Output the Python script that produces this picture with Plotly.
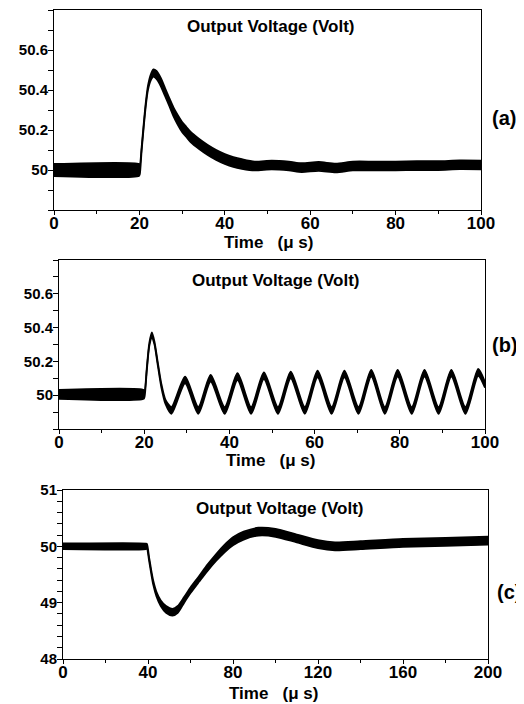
import plotly.graph_objects as go

# ---------------- data ----------------
# Panel (a): time in microseconds, trace centre (V), half thickness of the trace band (V)
t_a = [0, 19.9, 20.1, 20.5, 21, 21.5, 22, 22.6, 23.3, 24, 25, 26, 27, 28, 29, 30, 31, 32,
       34, 36, 38, 40, 42, 44, 47, 51, 55, 58, 62, 66, 70, 75, 80, 85, 90, 95, 100]
v_a = [50.0, 50.0, 50.0, 50.1, 50.22, 50.33, 50.41, 50.46, 50.485, 50.475, 50.44, 50.39,
       50.34, 50.29, 50.25, 50.215, 50.19, 50.165, 50.13, 50.1, 50.075, 50.055, 50.04,
       50.03, 50.02, 50.025, 50.02, 50.012, 50.018, 50.01, 50.02, 50.02, 50.02, 50.022,
       50.022, 50.026, 50.025]
w_a = [0.03, 0.03, 0.02, 0.008, 0.008, 0.008, 0.01, 0.014, 0.018, 0.02, 0.02, 0.02, 0.02,
       0.022, 0.024, 0.025, 0.025, 0.025, 0.025, 0.025, 0.025, 0.025, 0.025, 0.024, 0.022,
       0.022, 0.022, 0.022, 0.022, 0.022, 0.022, 0.022, 0.022, 0.022, 0.022, 0.022, 0.022]

# Panel (b)
t_b = [0, 19.9, 20.1, 20.6, 21.2, 21.8, 22.4, 23.1, 24.0, 25.0, 26.4, 29.6, 32.7, 35.6, 38.9,
       41.9, 45.1, 48.1, 51.4, 54.4, 57.7, 60.7, 64.0, 67.0, 70.3, 73.3, 76.5, 79.5, 82.8,
       85.8, 89.1, 92.1, 95.4, 98.4, 100]
v_b = [50.005, 50.005, 50.005, 50.15, 50.3, 50.355, 50.31, 50.2, 50.06, 49.96, 49.91, 50.09,
       49.91, 50.1, 49.91, 50.11, 49.91, 50.115, 49.91, 50.12, 49.91, 50.125, 49.91,
       50.125, 49.91, 50.13, 49.91, 50.13, 49.91, 50.13, 49.91, 50.13, 49.91, 50.135,
       50.06]
w_b = [0.026, 0.026, 0.012, 0.008, 0.008, 0.016, 0.008, 0.008, 0.01, 0.012, 0.02, 0.02,
       0.02, 0.02, 0.02, 0.02, 0.02, 0.02, 0.02, 0.02, 0.02, 0.02, 0.02, 0.02,
       0.02, 0.02, 0.02, 0.02, 0.02, 0.02, 0.02, 0.02, 0.02, 0.02, 0.016]

# Panel (c)
t_c = [0, 39, 39.5, 40.5, 41.5, 42.5, 44, 46, 48.5, 51.5, 54, 57, 60, 64, 68, 72, 76, 80,
       85, 92, 100, 110, 120, 128, 140, 160, 180, 200]
v_c = [50.0, 50.0, 50.0, 49.78, 49.55, 49.35, 49.15, 48.99, 48.88, 48.83, 48.88, 49.05,
       49.22, 49.42, 49.62, 49.8, 49.96, 50.09, 50.19, 50.26, 50.24, 50.14, 50.04, 50.0,
       50.02, 50.06, 50.08, 50.1]
w_c = [0.05, 0.05, 0.04, 0.03, 0.03, 0.035, 0.04, 0.05, 0.06, 0.06, 0.06, 0.05, 0.05, 0.05,
       0.055, 0.06, 0.065, 0.07, 0.07, 0.07, 0.07, 0.07, 0.07, 0.07, 0.07, 0.07, 0.07, 0.07]

x_ticks_ab = [0, 20, 40, 60, 80, 100]
x_ticks_c = [0, 40, 80, 120, 160, 200]
y_ticks_ab = [50, 50.2, 50.4, 50.6]
y_labels_ab = ["50", "50.2", "50.4", "50.6"]
y_ticks_c = [48, 49, 50, 51]
y_labels_c = ["48", "49", "50", "51"]

title_text = "Output Voltage (Volt)"
xtitle_text = "Time\u00a0\u00a0\u00a0(\u03bc\u00a0s)"
panel_names = ["(a)", "(b)", "(c)"]

# ---------------- layout helpers ----------------
W, H = 524, 704
OFF = 8  # page body margin shifts the figure by this much
def px(x):
    return (x - OFF) / W
def py(y):
    return 1 - (y - OFF) / H

FONT = "Arial, 'Liberation Sans', Helvetica, sans-serif"

panels = [
    dict(t=t_a, v=v_a, w=w_a, xr=[0, 100], yr=[49.8, 50.8], xt=x_ticks_ab, xm=10,
         yt=y_ticks_ab, yl=y_labels_ab, ym=0.1, box=(54, 481, 10, 210),
         title=(270, 27), xtitle=(268, 242), label=(504, 118)),
    dict(t=t_b, v=v_b, w=w_b, xr=[0, 100], yr=[49.8, 50.8], xt=x_ticks_ab, xm=10,
         yt=y_ticks_ab, yl=y_labels_ab, ym=0.1, box=(59, 485, 260, 429),
         title=(275, 281), xtitle=(270, 460), label=(505, 345)),
    dict(t=t_c, v=v_c, w=w_c, xr=[0, 200], yr=[48, 51], xt=x_ticks_c, xm=20,
         yt=y_ticks_c, yl=y_labels_c, ym=0.2, box=(63, 488, 490, 659),
         title=(279, 508), xtitle=(273, 693), label=(509, 592)),
]

fig = go.Figure()
annotations = []
layout = {}
for i, p in enumerate(panels):
    xa = "x" if i == 0 else f"x{i+1}"
    ya = "y" if i == 0 else f"y{i+1}"
    hi = [c + h for c, h in zip(p["v"], p["w"])]
    lo = [c - h for c, h in zip(p["v"], p["w"])]
    line = dict(color="black", width=1.8, shape="spline", smoothing=0.7)
    fig.add_trace(go.Scatter(x=p["t"], y=hi, mode="lines", line=line, xaxis=xa, yaxis=ya,
                             showlegend=False, hoverinfo="skip"))
    fig.add_trace(go.Scatter(x=p["t"], y=lo, mode="lines", line=line, fill="tonexty",
                             fillcolor="black", xaxis=xa, yaxis=ya, showlegend=False,
                             hoverinfo="skip"))
    x0, x1, y0, y1 = p["box"]
    xkey = "xaxis" if i == 0 else f"xaxis{i+1}"
    ykey = "yaxis" if i == 0 else f"yaxis{i+1}"
    layout[xkey] = dict(
        domain=[px(x0), px(x1)], range=p["xr"], anchor=ya, tickvals=p["xt"],
        ticks="outside", ticklen=4, tickwidth=1, tickcolor="black",
        minor=dict(dtick=p["xm"], tick0=0, ticks="outside", ticklen=3, tickcolor="black"),
        showline=True, mirror=True, linecolor="black", linewidth=1,
        showgrid=False, zeroline=False, automargin=False, ticklabelstandoff=-6,
        tickfont=dict(family=FONT, size=17, color="black", weight="bold"),
    )
    layout[ykey] = dict(
        domain=[py(y1), py(y0)], range=p["yr"], anchor=xa, tickvals=p["yt"],
        ticktext=p["yl"], ticks="outside", ticklen=5, tickwidth=1, tickcolor="black",
        minor=dict(dtick=p["ym"], tick0=p["yr"][0], ticks="outside", ticklen=5,
                   tickcolor="black"),
        showline=True, mirror=True, linecolor="black", linewidth=1,
        showgrid=False, zeroline=False, automargin=False, ticklabelstandoff=-3,
        tickfont=dict(family=FONT, size=15, color="black", weight="bold"),
    )
    annotations.append(dict(text=title_text, x=px(p["title"][0]), y=py(p["title"][1]),
                            xref="paper", yref="paper", showarrow=False,
                            xanchor="center", yanchor="middle",
                            font=dict(family=FONT, size=17, color="black", weight="bold")))
    annotations.append(dict(text=xtitle_text, x=px(p["xtitle"][0]), y=py(p["xtitle"][1]),
                            xref="paper", yref="paper", showarrow=False,
                            xanchor="center", yanchor="middle",
                            font=dict(family=FONT, size=17, color="black", weight="bold")))
    annotations.append(dict(text=panel_names[i], x=px(p["label"][0]), y=py(p["label"][1]),
                            xref="paper", yref="paper", showarrow=False,
                            xanchor="center", yanchor="middle",
                            font=dict(family=FONT, size=20, color="black", weight="bold")))

fig.update_layout(
    width=W, height=H, margin=dict(l=0, r=0, t=0, b=0, pad=0, autoexpand=False),
    paper_bgcolor="white", plot_bgcolor="white",
    annotations=annotations, showlegend=False,
    **layout,
)

fig.write_html("out.html")
